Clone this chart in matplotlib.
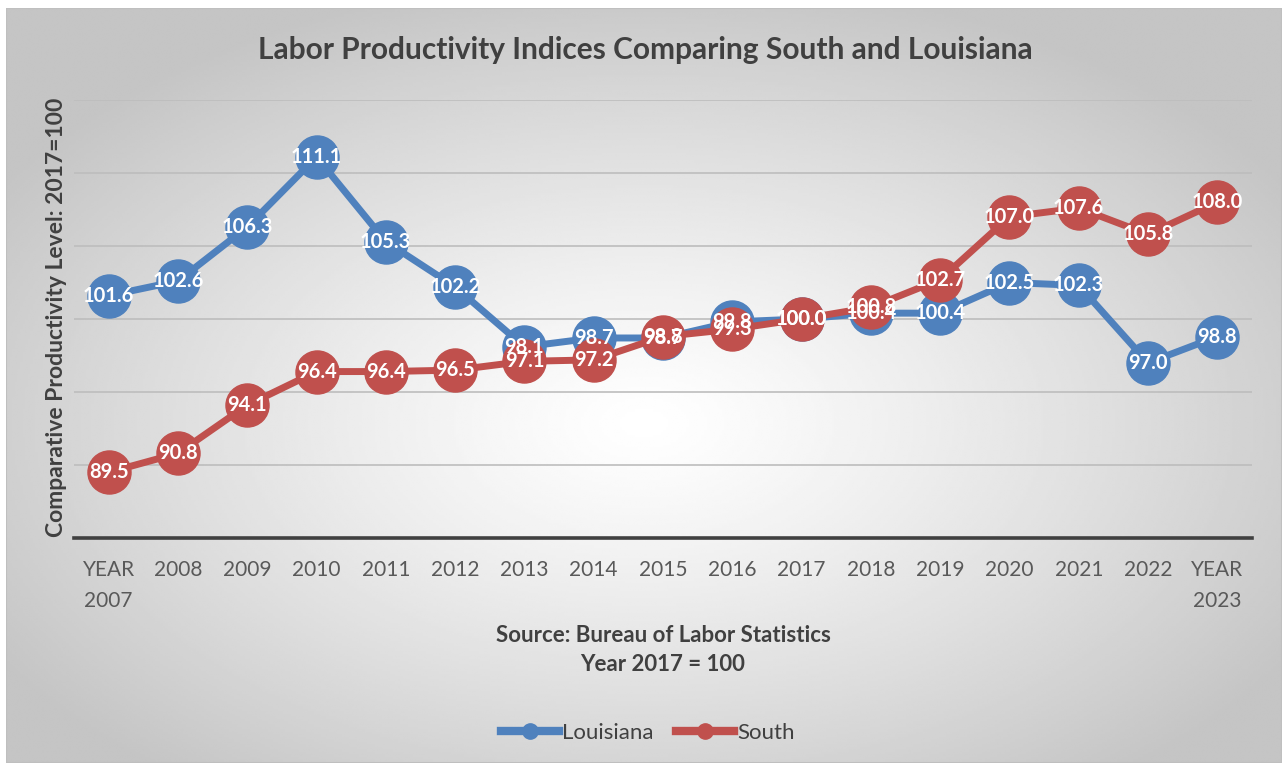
import numpy as np
import matplotlib.pyplot as plt
from matplotlib.lines import Line2D

plt.rcParams['font.family'] = ['Lato', 'DejaVu Sans']

years = ["YEAR\n2007", "2008", "2009", "2010", "2011", "2012", "2013", "2014", "2015",
         "2016", "2017", "2018", "2019", "2020", "2021", "2022", "YEAR\n2023"]
louisiana = [101.6, 102.6, 106.3, 111.1, 105.3, 102.2, 98.1, 98.7, 98.7,
             99.8, 100.0, 100.4, 100.4, 102.5, 102.3, 97.0, 98.8]
south = [89.5, 90.8, 94.1, 96.4, 96.4, 96.5, 97.1, 97.2, 98.8,
         99.3, 100.0, 100.8, 102.7, 107.0, 107.6, 105.8, 108.0]

blue = "#4F81BD"
red = "#C0504D"

W, H = 1282, 765
fig = plt.figure(figsize=(W / 100, H / 100), dpi=100)
fig.patch.set_facecolor("white")

# chart area with radial gradient background
bg = fig.add_axes([6 / W, 2 / H, (W - 6) / W, (H - 10) / H])
bg.set_axis_off()
yy, xx = np.mgrid[0:1:300j, 0:1:500j]
r = np.sqrt(((xx - 0.5) / 0.6) ** 2 + ((yy - 0.55) / 0.6) ** 2)
shade = 1.0 - 0.23 * np.clip(r, 0, 1) ** 1.2
bg.imshow(shade, cmap="gray", vmin=0, vmax=1, aspect="auto",
          extent=[0, 1, 0, 1], interpolation="bilinear")
bg.set_xlim(0, 1)
bg.set_ylim(0, 1)
bg.plot([0, 1, 1, 0, 0], [0, 0, 1, 1, 0], color="#BFBFBF", lw=1.5)

left, right = 74, 1252
top, bottom = 100, 538
ax = fig.add_axes([left / W, 1 - bottom / H, (right - left) / W, (bottom - top) / H])
ax.patch.set_alpha(0)
x = np.arange(len(years))
ax.set_xlim(-0.5, len(years) - 0.5)
ax.set_ylim(85, 115)

ax.set_yticks(np.arange(85, 116, 5))
ax.yaxis.grid(True, color="#BDBDBD", lw=1.2)
ax.tick_params(axis="y", left=False, labelleft=False)
for s in ["left", "right", "top"]:
    ax.spines[s].set_visible(False)
ax.spines["bottom"].set_color("#404040")
ax.spines["bottom"].set_linewidth(2.6)
ax.set_axisbelow(True)

ax.set_xticks(x)
ax.set_xticklabels(years, fontsize=15, color="#595959", linespacing=1.7)
ax.tick_params(axis="x", bottom=False, pad=12)

for vals, col, name in [(louisiana, blue, "Louisiana"), (south, red, "South")]:
    ax.plot(x, vals, color=col, lw=5, marker="o", ms=31, mec=col, mfc=col,
            label=name, zorder=3, clip_on=False)

for vals in [louisiana, south]:
    for xi, v in zip(x, vals):
        ax.text(xi, v, f"{v:.1f}", ha="center", va="center", color="white",
                fontsize=14.5, fontweight="bold", zorder=5)

fig.text(57 / W, 1 - 317 / H, "Comparative Productivity Level: 2017=100",
         rotation=90, ha="center", va="center", fontsize=16.5,
         fontweight="bold", color="#404040")

fig.text(645 / W, 1 - 50 / H, "Labor Productivity Indices Comparing South and Louisiana",
         ha="center", va="center", fontsize=21.5, fontweight="bold", color="#404040")
fig.text(663 / W, 1 - 650 / H, "Source: Bureau of Labor Statistics\nYear 2017 = 100",
         ha="center", va="center", fontsize=16, fontweight="bold", color="#404040",
         linespacing=1.45)

handles = [Line2D([], [], color=blue, lw=6, marker="o", ms=11),
           Line2D([], [], color=red, lw=6, marker="o", ms=11)]
fig.legend(handles, ["Louisiana", "South"], loc="center",
           bbox_to_anchor=(648 / W, 1 - 733 / H), ncol=2, frameon=False,
           fontsize=16, labelcolor="#404040", handlelength=2.6,
           handletextpad=0.15, columnspacing=1.0)

fig.savefig("out.png", dpi=100)
